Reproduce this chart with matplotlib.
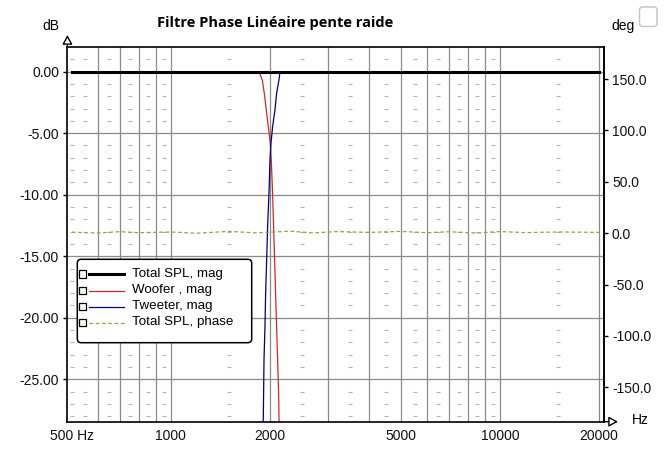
import numpy as np
import matplotlib
matplotlib.use("Agg")
import matplotlib.pyplot as plt
from matplotlib.patches import FancyBboxPatch, Rectangle, FancyArrowPatch
from matplotlib.lines import Line2D
from matplotlib.transforms import IdentityTransform
from matplotlib.ticker import NullLocator, FixedLocator

# ---------------- data ----------------
title = "Filtre Phase Linéaire pente raide"
x_ticks = [500, 1000, 2000, 5000, 10000, 20000]
x_ticklabels = ["500 Hz", "1000", "2000", "5000", "10000", "20000"]
db_ticks = [0, -5, -10, -15, -20, -25]
deg_ticks = [150, 100, 50, 0, -50, -100, -150]
major_vlines = [600, 700, 800, 900, 1000, 2000, 3000, 4000, 5000, 6000,
                7000, 8000, 9000, 10000, 20000]
minor_x = [500, 550, 650, 750, 850, 950, 1500, 2500, 3500, 4500, 5500,
           6500, 7500, 8500, 9500, 15000]

total_f = [500, 1000, 2000, 5000, 10000, 20000]
total_db = [0, 0, 0, 0, 0, 0]

woofer_f = [500, 1000, 1500, 1800, 1855, 1895, 1922, 1949, 1977, 2004, 2018,
            2037, 2051, 2066, 2080, 2095, 2110, 2125, 2130, 2145, 2200, 3000,
            20000]
woofer_db = [0, 0, 0, 0, -0.05, -0.67, -1.76, -3.11, -4.47, -5.82, -7.18,
             -9.89, -12.6, -15.31, -18.02, -20.73, -23.44, -26.15, -28.05,
             -33, -50, -90, -120]

tweeter_f = [500, 1000, 1800, 1880, 1909, 1918, 1931, 1940, 1954, 1967, 1986,
             2000, 2014, 2037, 2071, 2095, 2130, 2144, 2200, 5000, 20000]
tweeter_db = [-120, -90, -50, -33, -28.05, -23.44, -20.73, -18.02, -15.31,
              -12.6, -9.89, -7.18, -5.82, -4.47, -3.11, -1.76, -0.67, -0.05,
              0, 0, 0]

phase_f = [500, 600, 700, 800, 1000, 1200, 1500, 1800, 2000, 2300, 2700,
           3200, 4000, 5000, 6000, 7000, 8500, 10000, 12000, 15000, 20000]
phase_deg = [1.0, 0.2, 1.5, 0.5, 1.2, 0.0, 1.8, 0.4, 1.0, 2.0, 0.3, 1.6,
             0.8, 1.8, 0.5, 1.4, 0.2, 1.6, 0.6, 1.2, 0.8]

legend_labels = ["Total SPL, mag", "Woofer , mag", "Tweeter, mag",
                 "Total SPL, phase"]

# ---------------- layout ----------------
W, H = 672, 469
DPI = 100
fig = plt.figure(figsize=(W / DPI, H / DPI), dpi=DPI)
fig.patch.set_facecolor("white")

def fx(x):
    return x / W

def fy(y):
    return 1 - y / H

AX_L, AX_R, AX_T, AX_B = 67.4, 604.3, 46.7, 421.7
ax = fig.add_axes([fx(AX_L), fy(AX_B), (AX_R - AX_L) / W, (AX_B - AX_T) / H])
ax2 = ax.twinx()

font = "Liberation Sans"
GRID = "#8a8a8a"
C_TOTAL = "black"
C_WOOF = "#cc2a2a"
C_TWEET = "#000080"
C_PHASE = "#a0a048"

ax.set_xscale("log")
ax.set_xlim(484.6, 20750)
ax.set_ylim(-28.45, 2.03)
ax2.set_ylim(-183.4, 181.5)

# grid
for v in major_vlines:
    ax.axvline(v, color=GRID, lw=0.9, zorder=1)
for h in db_ticks:
    ax.axhline(h, color=GRID, lw=0.9, zorder=1)
rows = [d for d in range(1, -29, -1) if d % 5 != 0]
mx, my = np.meshgrid(minor_x, rows)
ax.plot(mx.ravel(), my.ravel(), ls="none", marker="_", ms=2.6, mew=0.8,
        color="#b4b4b4", zorder=1.5)

# series
ax.plot(woofer_f, woofer_db, color=C_WOOF, lw=0.9, zorder=2)
ax.plot(tweeter_f, tweeter_db, color=C_TWEET, lw=0.9, zorder=2)
ax.plot(total_f, total_db, color=C_TOTAL, lw=2.2, zorder=3)
ax2.plot(phase_f, phase_deg, color=C_PHASE, lw=0.9, ls=(0, (3, 2)), zorder=2)

# ticks
ax.xaxis.set_major_locator(FixedLocator(x_ticks))
ax.set_xticklabels(x_ticklabels)
ax.xaxis.set_minor_locator(NullLocator())
ax.set_yticks(db_ticks)
ax.set_yticklabels([f"{v:.2f}" for v in db_ticks])
ax2.set_yticks(deg_ticks)
ax2.set_yticklabels([f"{v:.1f}" for v in deg_ticks])
ax.tick_params(axis="x", length=0, pad=5, labelsize=10)
ax.tick_params(axis="y", direction="out", length=3, width=1, pad=3, labelsize=10)
ax2.tick_params(axis="y", direction="out", length=3, width=1, pad=2.5, labelsize=10)
for a in (ax, ax2):
    for lab in a.get_xticklabels() + a.get_yticklabels():
        lab.set_fontfamily(font)
        lab.set_color("#111111")
    for s in a.spines.values():
        s.set_color("black")
        s.set_linewidth(1.2)
ax2.spines["left"].set_visible(False)
ax2.spines["top"].set_visible(False)
ax2.spines["bottom"].set_visible(False)

# axis arrows (extensions of spines)
arrow_kw = dict(arrowstyle="-|>,head_length=0.55,head_width=0.3",
                mutation_scale=10, fc="white", ec="black", lw=1.0,
                shrinkA=0, shrinkB=0, zorder=5)
fig.add_artist(FancyArrowPatch((AX_L, H - AX_T + 1), (AX_L, H - 35),
                               transform=IdentityTransform(), **arrow_kw))
fig.add_artist(FancyArrowPatch((AX_R - 1, H - AX_B), (618, H - AX_B),
                               transform=IdentityTransform(), **arrow_kw))

# axis unit texts
fig.text(fx(50.5), fy(30), "dB", ha="center", va="baseline", fontsize=10,
         family=font)
fig.text(fx(623), fy(30), "deg", ha="center", va="baseline", fontsize=10,
         family=font)
fig.text(fx(640.5), fy(424), "Hz", ha="center", va="baseline", fontsize=10,
         family=font)

# title
fig.text(fx(275), fy(26.5), title, ha="center", va="baseline", fontsize=10.5,
         family="Open Sans", fontweight="bold")

# small checkbox top-right
fig.add_artist(FancyBboxPatch((639.5, H - 26.5), 17.5, 19.5,
                              boxstyle="round,pad=0,rounding_size=3",
                              transform=IdentityTransform(), fc="white",
                              ec="#c4c4c4", lw=1.0))

# legend
LX0, LX1, LY0, LY1 = 77.3, 251.7, 259.3, 342.7
fig.add_artist(FancyBboxPatch((LX0, H - LY1), LX1 - LX0, LY1 - LY0,
                              boxstyle="round,pad=0,rounding_size=4",
                              transform=IdentityTransform(), fc="white",
                              ec="black", lw=1.1, zorder=10))
legend_rows = [274, 290.5, 306.5, 322.5]
legend_styles = [(C_TOTAL, 2.2, "-"), (C_WOOF, 0.9, "-"), (C_TWEET, 0.9, "-"),
                 (C_PHASE, 0.9, (0, (3, 2)))]
for lab, ry, (c, lw, ls) in zip(legend_labels, legend_rows, legend_styles):
    fig.add_artist(Rectangle((78.5, H - ry - 3.8), 7.6, 7.6,
                             transform=IdentityTransform(), fc="white",
                             ec="black", lw=0.9, zorder=11))
    fig.add_artist(Line2D([89.3, 124], [H - ry, H - ry], color=c, lw=lw,
                          ls=ls, transform=IdentityTransform(), zorder=11))
    fig.text(fx(131.5), fy(ry), lab, ha="left", va="center", fontsize=9.6,
             family=font, zorder=12)

fig.savefig("out.png", dpi=DPI)
